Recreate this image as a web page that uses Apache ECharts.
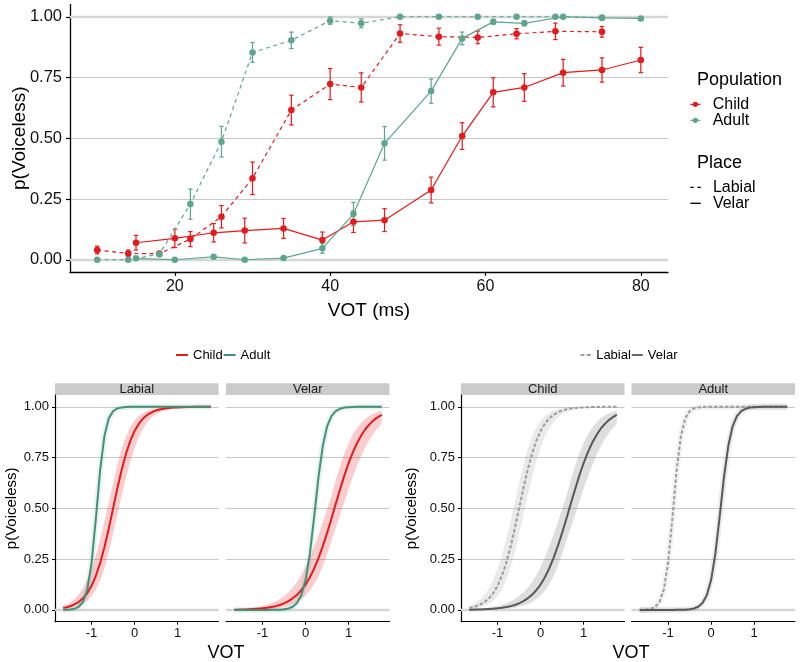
<!DOCTYPE html>
<html lang="en">
<head>
    <meta charset="UTF-8">
    <title>VOT</title>
    <script src="https://cdn.jsdelivr.net/npm/echarts@6.0.0/dist/echarts.min.js"></script>
    <style>
        * {
            margin: 0;
            padding: 0
        }

        html, body {
            width: 100%;
            height: 100%;
            background: #fff;
        }

        #main {
            width: 800px;
            height: 662px;
        }
    </style>
</head>
<body>
<div id="main"></div>
<script type="text/javascript">
    /*-------------------- observed proportions (top panel) --------------------*/
    var votLabial = [10, 14, 18, 22, 26, 30, 35, 40, 44, 49, 54, 59, 64, 69, 75];
    var votVelar = [15, 20, 25, 29, 34, 39, 43, 47, 53, 57, 61, 65, 70, 75, 80];

    var childLabial = [0.040, 0.026, 0.025, 0.085, 0.177, 0.335, 0.616, 0.723, 0.709, 0.931, 0.918, 0.915, 0.930, 0.940, 0.938];
    var childLabialSe = [0.016, 0.014, 0.010, 0.031, 0.046, 0.067, 0.061, 0.064, 0.060, 0.036, 0.035, 0.026, 0.021, 0.034, 0.022];
    var childVelar = [0.070, 0.088, 0.111, 0.120, 0.129, 0.081, 0.156, 0.163, 0.287, 0.509, 0.689, 0.709, 0.770, 0.781, 0.822];
    var childVelarSe = [0.030, 0.038, 0.038, 0.051, 0.041, 0.033, 0.044, 0.047, 0.053, 0.055, 0.060, 0.057, 0.055, 0.050, 0.052];
    var adultLabial = [0.000, 0.000, 0.023, 0.229, 0.486, 0.853, 0.903, 0.984, 0.973, 1.000, 1.000, 1.000, 1.000, 1.000, 0.997];
    var adultLabialSe = [0.000, 0.000, 0.010, 0.062, 0.063, 0.041, 0.034, 0.015, 0.018, 0.000, 0.000, 0.000, 0.000, 0.000, 0.005];
    var adultVelar = [0.006, 0.000, 0.012, 0.000, 0.007, 0.047, 0.188, 0.479, 0.694, 0.911, 0.979, 0.973, 1.000, 0.995, 0.993];
    var adultVelarSe = [0.005, 0.000, 0.006, 0.000, 0.005, 0.020, 0.048, 0.069, 0.050, 0.026, 0.010, 0.010, 0.000, 0.004, 0.000];

    /*-------------------- model fits (bottom panels), standardised VOT --------------------*/
    var votStd = [-1.66, -1.6, -1.5, -1.4, -1.3, -1.2, -1.1, -1.0, -0.9, -0.8, -0.7, -0.6, -0.5, -0.4, -0.3, -0.2, -0.1,
        0, 0.1, 0.2, 0.3, 0.4, 0.5, 0.6, 0.7, 0.8, 0.9, 1.0, 1.1, 1.2, 1.3, 1.4, 1.5, 1.6, 1.7, 1.77];

    var fitChildLabial = [0.010, 0.012, 0.018, 0.027, 0.039, 0.057, 0.083, 0.119, 0.168, 0.231, 0.310, 0.401, 0.500, 0.599, 0.690, 0.769, 0.832,
        0.881, 0.917, 0.943, 0.961, 0.973, 0.982, 0.988, 0.992, 0.994, 0.996, 0.997, 0.998, 0.999, 0.999, 1, 1, 1, 1, 1];
    var fitChildLabialLo = [0.004, 0.0056, 0.0086, 0.013, 0.020, 0.030, 0.045, 0.068, 0.100, 0.145, 0.206, 0.284, 0.378, 0.469, 0.562, 0.651, 0.731,
        0.798, 0.852, 0.893, 0.924, 0.947, 0.963, 0.974, 0.982, 0.988, 0.991, 0.994, 0.996, 0.997, 0.998, 0.999, 0.999, 0.999, 1, 1];
    var fitChildLabialHi = [0.021, 0.026, 0.037, 0.053, 0.076, 0.107, 0.148, 0.202, 0.269, 0.349, 0.438, 0.531, 0.622, 0.716, 0.794, 0.855, 0.900,
        0.932, 0.955, 0.970, 0.980, 0.987, 0.991, 0.994, 0.996, 0.998, 0.998, 0.999, 0.999, 1, 1, 1, 1, 1, 1, 1];

    var fitChildVelar = [0.0012, 0.0014, 0.0018, 0.0025, 0.0033, 0.0044, 0.0059, 0.0078, 0.0104, 0.0139, 0.0185, 0.0245, 0.0325, 0.043, 0.057, 0.074, 0.097,
        0.125, 0.161, 0.204, 0.255, 0.314, 0.379, 0.449, 0.522, 0.593, 0.661, 0.723, 0.777, 0.823, 0.861, 0.893, 0.917, 0.937, 0.952, 0.960];
    var fitChildVelarLo = [0.0004, 0.0005, 0.0006, 0.0009, 0.0012, 0.0016, 0.0023, 0.0031, 0.0043, 0.0059, 0.0081, 0.0111, 0.0152, 0.0208, 0.0284, 0.0387, 0.0525,
        0.071, 0.095, 0.126, 0.166, 0.215, 0.274, 0.342, 0.403, 0.467, 0.532, 0.596, 0.656, 0.712, 0.763, 0.806, 0.844, 0.875, 0.901, 0.916];
    var fitChildVelarHi = [0.0035, 0.0042, 0.0054, 0.0070, 0.0091, 0.0117, 0.0152, 0.0196, 0.0253, 0.0325, 0.0418, 0.0535, 0.0683, 0.0868, 0.110, 0.138, 0.172,
        0.212, 0.259, 0.312, 0.370, 0.432, 0.497, 0.561, 0.638, 0.708, 0.770, 0.822, 0.864, 0.897, 0.923, 0.943, 0.958, 0.969, 0.977, 0.982];

    var fitAdultLabial = [0.0004, 0.0007, 0.0020, 0.0055, 0.0148, 0.039, 0.100, 0.231, 0.450, 0.690, 0.858, 0.943, 0.978, 0.992, 0.997, 0.999, 1,
        1, 1, 1, 1, 1, 1, 1, 1, 1, 1, 1, 1, 1, 1, 1, 1, 1, 1, 1];
    var fitAdultVelar = [0, 0, 0, 0, 0, 0, 0, 0.0001, 0.0001, 0.0003, 0.0006, 0.0014, 0.0031, 0.0070, 0.0154, 0.034, 0.072,
        0.147, 0.277, 0.460, 0.655, 0.808, 0.904, 0.954, 0.979, 0.990, 0.996, 0.998, 0.999, 1, 1, 1, 1, 1, 1, 1];

    var yTicks = [0, 0.25, 0.5, 0.75, 1];
    var xTicksTop = [20, 40, 60, 80];
    var xTicksBottom = [-1, 0, 1];

    /*-------------------- styling --------------------*/
    var FONT = '"Liberation Sans", Arial, sans-serif';
    var RED = '#e41a1c';
    var GREEN = '#5ea58b';
    var GREEN_DK = '#43907a';
    var LGREY = '#9c9c9c';
    var DGREY = '#585858';
    var INK = '#111';
    var GRIDC = '#c9c9c9';

    var ICON_DOT = 'path://M2.4,3a2.6,2.6 0 1,0 5.2,0a2.6,2.6 0 1,0 -5.2,0Z M0,2.4h2.4v1.2h-2.4Z M7.6,2.4h2.4v1.2h-2.4Z';
    var ICON_DASH = 'path://M0,0h3.4v1.3h-3.4Z M7,0h3.4v1.3h-3.4Z';
    var ICON_SOLID = 'path://M0,0h10.4v1.3h-10.4Z';
    var ICON_LINE = 'path://M0,0h12v2h-12Z';
    var ICON_LDASH = 'path://M0,0h4v1.8h-4Z M6.3,0h4v1.8h-4Z';
    var ICON_LSOLID = 'path://M0,0h11v1.8h-11Z';

    // bottom facet panels: [left, strip label]
    var panels = [[55, 'Labial'], [226, 'Velar'], [461, 'Child'], [631.5, 'Adult']];
    var PW = 163.5, PTOP = 395, PH = 226.7;

    function pairs(xs, ys) {
        return xs.map(function (x, i) { return [x, ys[i]]; });
    }

    function errBars(xs, ys, se, color) {
        return {
            type: 'custom', name: 'err', xAxisIndex: 0, yAxisIndex: 0, silent: true, z: 2,
            data: xs.map(function (x, i) { return [x, ys[i] - se[i], ys[i] + se[i]]; }),
            renderItem: function (params, api) {
                var a = api.coord([api.value(0), api.value(1)]);
                var b = api.coord([api.value(0), api.value(2)]);
                var st = {stroke: color, lineWidth: 1.2};
                return {
                    type: 'group', children: [
                        {type: 'line', shape: {x1: a[0], y1: a[1], x2: b[0], y2: b[1]}, style: st},
                        {type: 'line', shape: {x1: a[0] - 2.2, y1: a[1], x2: a[0] + 2.2, y2: a[1]}, style: st},
                        {type: 'line', shape: {x1: b[0] - 2.2, y1: b[1], x2: b[0] + 2.2, y2: b[1]}, style: st}
                    ]
                };
            }
        };
    }

    function obsLine(name, xs, ys, color, dashed) {
        return {
            type: 'line', name: name, xAxisIndex: 0, yAxisIndex: 0, z: 3,
            data: pairs(xs, ys),
            symbol: 'circle', symbolSize: 6.5,
            itemStyle: {color: color},
            lineStyle: {color: color, width: 1.2, type: dashed ? [4, 3.5] : 'solid'},
            emphasis: {disabled: true}
        };
    }

    function ribbon(g, lo, hi, color) {
        return {
            type: 'custom', name: 'ribbon', xAxisIndex: g, yAxisIndex: g, silent: true, z: 1,
            data: votStd.map(function (x, i) { return [x, lo[i], hi[i]]; }),
            renderItem: function (params, api) {
                if (params.dataIndex !== 0) return;
                var top = [], bot = [];
                for (var i = 0; i < votStd.length; i++) {
                    top.push(api.coord([votStd[i], hi[i]]));
                    bot.push(api.coord([votStd[i], lo[i]]));
                }
                return {type: 'polygon', shape: {points: top.concat(bot.reverse())}, style: {fill: color}};
            }
        };
    }

    function fitLine(g, name, ys, color, dashed, halo) {
        return {
            type: 'line', name: name, xAxisIndex: g, yAxisIndex: g, z: halo ? 2 : 3, silent: true,
            data: pairs(votStd, ys),
            symbol: 'none', smooth: false,
            lineStyle: {
                color: color, width: halo ? 6 : 2, opacity: halo ? 0.12 : 1,
                type: dashed ? [3.5, 2] : 'solid', join: 'round', cap: 'butt'
            },
            emphasis: {disabled: true}
        };
    }

    // thicker light rules at 0 (and 1 on top panel), drawn under the data
    function rules(g, vals) {
        return {
            type: 'line', name: 'rule', xAxisIndex: g, yAxisIndex: g, data: [], silent: true,
            markLine: {
                silent: true, symbol: 'none', z: 1, animation: false,
                label: {show: false},
                lineStyle: {color: '#d6d6d6', width: 2.4, type: 'solid'},
                data: vals.map(function (v) { return {yAxis: v}; })
            }
        };
    }

    var grids = [{left: 70, top: 4.6, width: 598, height: 267.3, outerBoundsMode: 'none', containLabel: false}];
    var xAxes = [{
        type: 'value', gridIndex: 0, min: 6.5, max: 83.5,
        axisLine: {onZero: false, lineStyle: {color: '#000', width: 1.3}},
        axisTick: {length: 4, customValues: xTicksTop, lineStyle: {color: '#000', width: 1.2}},
        axisLabel: {customValues: xTicksTop, fontSize: 16, color: INK, fontFamily: FONT, margin: 7},
        splitLine: {show: false},
        name: 'VOT (ms)', nameLocation: 'middle', nameGap: 29, nameMoveOverlap: false,
        nameTextStyle: {fontSize: 19, color: '#000', fontFamily: FONT}
    }];
    var yAxes = [{
        type: 'value', gridIndex: 0, min: -0.05, max: 1.05,
        axisLine: {onZero: false, lineStyle: {color: '#000', width: 1.3}},
        axisTick: {length: 4, customValues: yTicks, lineStyle: {color: '#000', width: 1.2}},
        axisLabel: {
            customValues: yTicks, fontSize: 16.5, color: INK, fontFamily: FONT, margin: 8,
            formatter: function (v) { return v.toFixed(2); }
        },
        splitLine: {show: true, lineStyle: {color: GRIDC, width: 1}},
        name: 'p(Voiceless)', nameLocation: 'middle', nameGap: 41, nameMoveOverlap: false,
        nameTextStyle: {fontSize: 19, color: '#000', fontFamily: FONT}
    }];

    var graphics = [
        {type: 'text', x: 697, y: 80, style: {text: 'Population', fontSize: 18, fontFamily: FONT, fill: '#000', align: 'left', verticalAlign: 'middle'}},
        {type: 'text', x: 697, y: 163, style: {text: 'Place', fontSize: 18, fontFamily: FONT, fill: '#000', align: 'left', verticalAlign: 'middle'}},
        {type: 'text', x: 226, y: 653, style: {text: 'VOT', fontSize: 18, fontFamily: FONT, fill: '#000', align: 'center', verticalAlign: 'middle'}},
        {type: 'text', x: 631, y: 653, style: {text: 'VOT', fontSize: 18, fontFamily: FONT, fill: '#000', align: 'center', verticalAlign: 'middle'}}
    ];

    panels.forEach(function (p, k) {
        var g = k + 1;
        var first = (k % 2 === 0);
        grids.push({left: p[0], top: PTOP, width: PW, height: PH, outerBoundsMode: 'none', containLabel: false});
        xAxes.push({
            type: 'value', gridIndex: g, min: -1.85, max: 1.95,
            axisLine: {onZero: false, lineStyle: {color: '#000', width: 1.2}},
            axisTick: {length: 3, customValues: xTicksBottom, lineStyle: {color: '#000', width: 1}},
            axisLabel: {customValues: xTicksBottom, fontSize: 13, color: INK, fontFamily: FONT, margin: 5},
            splitLine: {show: false}
        });
        yAxes.push({
            type: 'value', gridIndex: g, min: -0.058, max: 1.058,
            axisLine: {show: first, onZero: false, lineStyle: {color: '#000', width: 1.2}},
            axisTick: {show: first, length: 3, customValues: yTicks, lineStyle: {color: '#000', width: 1}},
            axisLabel: {
                show: first, customValues: yTicks, fontSize: 13, color: INK, fontFamily: FONT, margin: 6,
                formatter: function (v) { return v.toFixed(2); }
            },
            splitLine: {show: true, lineStyle: {color: GRIDC, width: 1}},
            name: first ? 'p(Voiceless)' : '', nameLocation: 'middle', nameGap: k === 0 ? 36 : 42,
            nameMoveOverlap: false,
            nameTextStyle: {fontSize: 15, color: '#000', fontFamily: FONT}
        });
        graphics.push({type: 'rect', shape: {x: p[0], y: 383.3, width: PW, height: 11.7}, style: {fill: '#cbcbcb'}});
        graphics.push({
            type: 'text', x: p[0] + PW / 2, y: 389.4,
            style: {text: p[1], fontSize: 13, fontFamily: FONT, fill: '#1a1a1a', align: 'center', verticalAlign: 'middle'}
        });
    });

    var series = [
        rules(0, [0, 1]),
        errBars(votLabial, childLabial, childLabialSe, RED),
        errBars(votVelar, childVelar, childVelarSe, RED),
        errBars(votLabial, adultLabial, adultLabialSe, GREEN),
        errBars(votVelar, adultVelar, adultVelarSe, GREEN),
        obsLine('Child', votLabial, childLabial, RED, true),
        obsLine('Child', votVelar, childVelar, RED, false),
        obsLine('Adult', votLabial, adultLabial, GREEN, true),
        obsLine('Adult', votVelar, adultVelar, GREEN, false),

        // by place: Labial
        rules(1, [0]),
        ribbon(1, fitChildLabialLo, fitChildLabialHi, 'rgba(228,26,28,0.22)'),
        fitLine(1, 'halo', fitAdultLabial, GREEN_DK, false, true),
        fitLine(1, 'Child', fitChildLabial, RED, false),
        fitLine(1, 'Adult', fitAdultLabial, GREEN_DK, false),
        // by place: Velar
        rules(2, [0]),
        ribbon(2, fitChildVelarLo, fitChildVelarHi, 'rgba(228,26,28,0.22)'),
        fitLine(2, 'halo', fitAdultVelar, GREEN_DK, false, true),
        fitLine(2, 'Child', fitChildVelar, RED, false),
        fitLine(2, 'Adult', fitAdultVelar, GREEN_DK, false),
        // by population: Child
        rules(3, [0]),
        ribbon(3, fitChildLabialLo, fitChildLabialHi, 'rgba(150,150,150,0.2)'),
        ribbon(3, fitChildVelarLo, fitChildVelarHi, 'rgba(90,90,90,0.2)'),
        fitLine(3, 'Labial', fitChildLabial, LGREY, true),
        fitLine(3, 'Velar', fitChildVelar, DGREY, false),
        // by population: Adult
        rules(4, [0]),
        fitLine(4, 'halo', fitAdultLabial, LGREY, false, true),
        fitLine(4, 'halo', fitAdultVelar, DGREY, false, true),
        fitLine(4, 'Labial', fitAdultLabial, LGREY, true),
        fitLine(4, 'Velar', fitAdultVelar, DGREY, false)
    ];

    var legendBase = {selectedMode: false, padding: 0, symbolKeepAspect: true};

    var chart = echarts.init(document.getElementById('main'), null, {renderer: 'canvas'});
    chart.setOption({
        animation: false,
        backgroundColor: '#fff',
        grid: grids,
        xAxis: xAxes,
        yAxis: yAxes,
        graphic: graphics,
        legend: [
            Object.assign({}, legendBase, {
                orient: 'vertical', left: 690.4, top: 96.3, itemGap: 0, itemWidth: 24.6, itemHeight: 5.2,
                textStyle: {fontSize: 16, lineHeight: 14, color: '#000', fontFamily: FONT},
                data: [
                    {name: 'Child', icon: ICON_DOT, itemStyle: {color: RED, borderWidth: 0}},
                    {name: 'Adult', icon: ICON_DOT, itemStyle: {color: GREEN, borderWidth: 0}}
                ]
            }),
            Object.assign({}, legendBase, {
                orient: 'vertical', left: 690.4, top: 179.3, itemGap: 0, itemWidth: 24.6, itemHeight: 1.3,
                textStyle: {fontSize: 16, lineHeight: 13.3, color: '#000', fontFamily: FONT},
                data: [
                    {name: 'Labial', icon: ICON_DASH, itemStyle: {color: '#000', borderWidth: 0}},
                    {name: 'Velar', icon: ICON_SOLID, itemStyle: {color: '#000', borderWidth: 0}}
                ]
            }),
            Object.assign({}, legendBase, {
                orient: 'horizontal', left: 176, top: 347.5, itemGap: 1, itemWidth: 12, itemHeight: 2,
                textStyle: {fontSize: 13, lineHeight: 15, color: '#000', fontFamily: FONT},
                data: [
                    {name: 'Child', icon: ICON_LINE, itemStyle: {color: RED, borderWidth: 0}},
                    {name: 'Adult', icon: ICON_LINE, itemStyle: {color: GREEN_DK, borderWidth: 0}}
                ]
            }),
            Object.assign({}, legendBase, {
                orient: 'horizontal', left: 580.5, top: 347.5, itemGap: 1, itemWidth: 11, itemHeight: 1.8,
                textStyle: {fontSize: 13, lineHeight: 15, color: '#000', fontFamily: FONT},
                data: [
                    {name: 'Labial', icon: ICON_LDASH, itemStyle: {color: LGREY, borderWidth: 0}},
                    {name: 'Velar', icon: ICON_LSOLID, itemStyle: {color: DGREY, borderWidth: 0}}
                ]
            })
        ],
        series: series
    });
</script>

</body>
</html>
